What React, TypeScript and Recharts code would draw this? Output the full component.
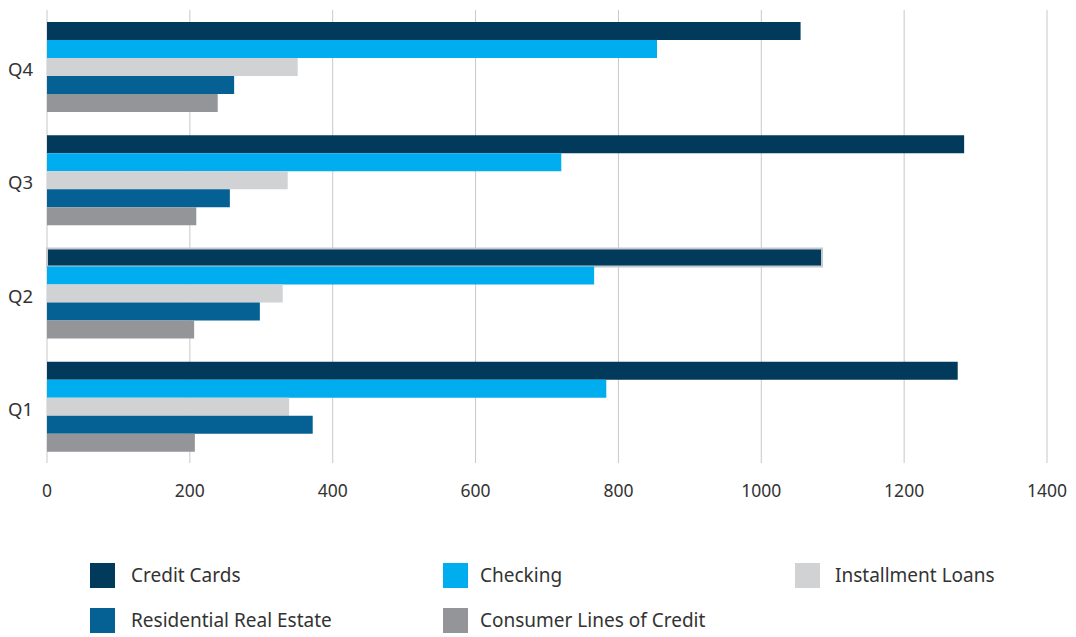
import { Bar, BarChart, CartesianGrid, Cell, XAxis, YAxis } from "recharts";

const quarters = ["Q1", "Q2", "Q3", "Q4"];
const creditCards = [1275, 1085, 1284, 1055];
const checking = [783, 766, 720, 854];
const installmentLoans = [339, 330, 337, 351];
const residentialRealEstate = [372, 298, 256, 262];
const consumerLines = [207, 206, 209, 239];
const xTicks = [0, 200, 400, 600, 800, 1000, 1200, 1400];

const series = [
  { key: "creditCards", name: "Credit Cards", color: "#023a5b" },
  { key: "checking", name: "Checking", color: "#00adee" },
  { key: "installmentLoans", name: "Installment Loans", color: "#d1d2d4" },
  { key: "residentialRealEstate", name: "Residential Real Estate", color: "#056194" },
  { key: "consumerLines", name: "Consumer Lines of Credit", color: "#939598" },
];

const data = quarters.map((q, i) => ({
  quarter: q,
  creditCards: creditCards[i],
  checking: checking[i],
  installmentLoans: installmentLoans[i],
  residentialRealEstate: residentialRealEstate[i],
  consumerLines: consumerLines[i],
}));

const font = "'Noto Sans', sans-serif";
const legendCols = [90, 443, 795];
const legendGap = [16, 12, 15];

export default function App() {
  return (
    <div style={{ position: "absolute", left: 0, top: 0, width: 1076, height: 637, background: "#fff", fontFamily: font }}>
      <BarChart
        width={1076}
        height={510}
        data={data}
        layout="vertical"
        margin={{ top: 10, right: 29, bottom: 7, left: 7 }}
        barGap={0}
        barSize={18}
      >
        <CartesianGrid horizontal={false} stroke="#c8c8c8" />
        <XAxis
          type="number"
          domain={[0, 1400]}
          ticks={xTicks}
          axisLine={false}
          tickLine={false}
          tickSize={0}
          tickMargin={22}
          height={40}
          tick={{ fill: "#333", fontSize: 17.5, fontFamily: font }}
        />
        <YAxis
          type="category"
          dataKey="quarter"
          reversed
          width={40}
          axisLine={false}
          tickLine={false}
          tickSize={0}
          tickMargin={14}
          tick={{ fill: "#333", fontSize: 18.5, fontFamily: font, dy: 3 }}
        />
        {series.map((s) => (
          <Bar key={s.key} dataKey={s.key} name={s.name} fill={s.color} isAnimationActive={false}>
            {s.key === "creditCards" &&
              data.map((d, i) => (
                <Cell key={i} fill={s.color} stroke={d.quarter === "Q2" ? "#c3c9cf" : "none"} strokeWidth={2} />
              ))}
          </Bar>
        ))}
      </BarChart>
      {series.map((s, i) => {
        const col = i < 3 ? i : i - 3;
        const row = i < 3 ? 0 : 1;
        return (
          <div
            key={s.key}
            style={{ position: "absolute", left: legendCols[col], top: 563 + row * 45, display: "flex", alignItems: "center" }}
          >
            <div style={{ width: 25, height: 25, background: s.color }} />
            <span style={{ marginLeft: legendGap[col], fontSize: 19, color: "#333", lineHeight: "25px" }}>{s.name}</span>
          </div>
        );
      })}
    </div>
  );
}
